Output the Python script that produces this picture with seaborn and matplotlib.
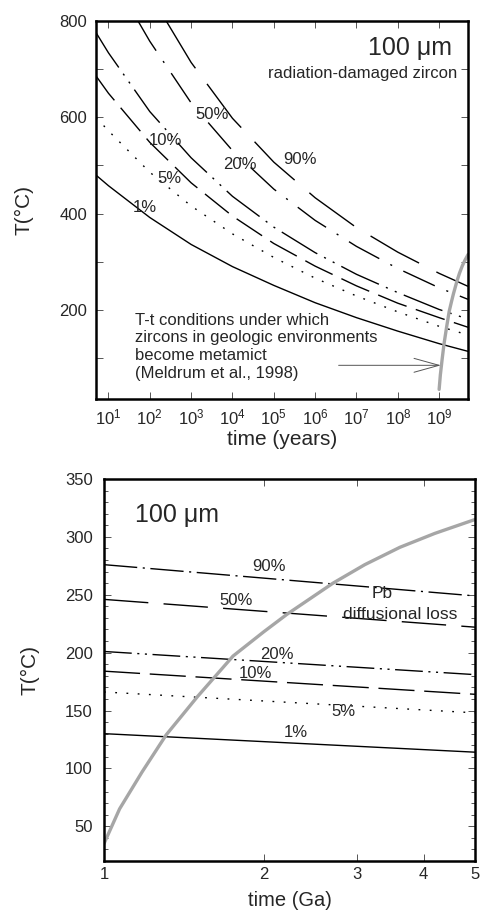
import matplotlib
matplotlib.use("Agg")
import matplotlib.pyplot as plt
from matplotlib.ticker import FixedLocator, FixedFormatter, MultipleLocator, NullLocator
import seaborn as sns

# ---------------------------------------------------------------------------
# Fractional Pb loss curves for a 100 um radiation-damaged zircon
# ---------------------------------------------------------------------------
t_years = [5, 1e1, 1e2, 1e3, 1e4, 1e5, 1e6, 1e7, 1e8, 1e9, 5e9]
T_loss_1 = [480, 458, 392, 336, 290, 251, 215, 184, 156, 130, 114]
T_loss_5 = [600, 572, 486, 416, 358, 309, 266, 229, 196, 166, 148]
T_loss_10 = [686, 650, 548, 464, 395, 338, 291, 250, 214, 184, 164]
T_loss_20 = [776, 734, 612, 516, 436, 372, 319, 274, 236, 201, 181]

t_years_50 = [52, 1e2, 1e3, 1e4, 1e5, 1e6, 1e7, 1e8, 1e9, 5e9]
T_loss_50 = [800, 758, 630, 531, 451, 386, 332, 286, 246, 222]

t_years_90 = [250, 1e3, 1e4, 1e5, 1e6, 1e7, 1e8, 1e9, 5e9]
T_loss_90 = [800, 714, 598, 507, 433, 371, 320, 276, 249]

# Metamictization boundary (Meldrum et al., 1998)
meta_ga = [1.0, 1.07, 1.18, 1.31, 1.50, 1.75, 2.0, 2.21, 2.70, 3.1, 3.61, 4.2, 5.0]
meta_T = [35, 65, 97, 129, 162, 197, 218, 233, 260, 276, 291, 303, 315]

loss_names = ["1%", "5%", "10%", "20%", "50%", "90%"]
x_decades = [1, 2, 3, 4, 5, 6, 7, 8, 9]
ga_ticks = [1, 2, 3, 4, 5]

series = {
    "1%": (t_years, T_loss_1),
    "5%": (t_years, T_loss_5),
    "10%": (t_years, T_loss_10),
    "20%": (t_years, T_loss_20),
    "50%": (t_years_50, T_loss_50),
    "90%": (t_years_90, T_loss_90),
}

# dash patterns (points) for each curve in the two panels
dash_top = {
    "1%": None,
    "5%": (1.3, 6.8),
    "10%": (22, 7),
    "20%": (30, 5.5, 1.5, 5.5, 1.5, 5.5),
    "50%": (25, 9, 1.5, 9),
    "90%": (40, 14),
}
dash_bot = {
    "1%": None,
    "5%": (1.3, 6.8),
    "10%": (26, 7),
    "20%": (20, 4, 1.5, 4, 1.5, 4),
    "50%": (32, 11),
    "90%": (24, 4, 1.5, 4),
}

label_pos_top = {
    "1%": (75, 413), "5%": (300, 472), "10%": (236, 552),
    "20%": (1.48e4, 503), "50%": (3.3e3, 606), "90%": (4.4e5, 512),
}
label_pos_bot = {
    "1%": (2.30, 131), "5%": (2.83, 149), "10%": (1.93, 182),
    "20%": (2.12, 198), "50%": (1.77, 245), "90%": (2.05, 274),
}

sns.set_theme(style="ticks")
plt.rcParams["font.family"] = ["Liberation Sans", "DejaVu Sans"]
plt.rcParams["axes.linewidth"] = 1.8
plt.rcParams["axes.edgecolor"] = "black"

GRAY = "#a6a6a6"


def draw(ax, x, y, dashes=None, color="black", lw=1.0):
    sns.lineplot(x=x, y=y, ax=ax, color=color, lw=lw, sort=False,
                 estimator=None, legend=False)
    line = ax.lines[-1]
    if dashes:
        line.set_dashes(dashes)
        line.set_dash_capstyle("butt")
    return line


fig = plt.figure(figsize=(4.83, 9.11), dpi=100)
ax1 = fig.add_axes([0.1988, 0.5620, 0.7702, 0.4149])
ax2 = fig.add_axes([0.2153, 0.0549, 0.7681, 0.4193])

# ---------------- upper panel: T vs time (years) ----------------
for name in loss_names:
    tx, ty = series[name]
    draw(ax1, tx, ty, dash_top[name])
draw(ax1, [g * 1e9 for g in meta_ga], meta_T, None, color=GRAY, lw=2.4)

ax1.set_xscale("log")
ax1.set_xlim(5, 5e9)
ax1.set_ylim(15, 800)
ax1.xaxis.set_major_locator(FixedLocator([10.0 ** k for k in x_decades]))
ax1.xaxis.set_major_formatter(
    FixedFormatter([r"$\mathdefault{10^{%d}}$" % k for k in x_decades]))
ax1.xaxis.set_minor_locator(NullLocator())
ax1.yaxis.set_major_locator(MultipleLocator(200))
ax1.yaxis.set_minor_locator(MultipleLocator(100))
ax1.tick_params(which="both", direction="in", top=True, right=True,
                width=0.7, color="#555555", labelsize=12)
ax1.tick_params(which="major", length=5)
ax1.tick_params(which="minor", length=5)
ax1.tick_params(axis="x", pad=6)
ax1.tick_params(axis="y", pad=6.5)
ax1.set_xlabel("time (years)", fontsize=15)
ax1.set_ylabel("T(\u00b0C)", fontsize=15)
ax1.xaxis.set_label_coords(0.5, -0.082)
ax1.yaxis.set_label_coords(-0.169, 0.5)

for name in loss_names:
    px, py = label_pos_top[name]
    ax1.text(px, py, name, fontsize=12, ha="center", va="center")

ax1.text(0.957, 0.910, "100 \u03bcm", transform=ax1.transAxes, fontsize=18,
         ha="right", va="baseline")
ax1.text(0.970, 0.849, "radiation-damaged zircon", transform=ax1.transAxes,
         fontsize=12, ha="right", va="baseline")
ax1.text(0.105, 0.228,
         "T-t conditions under which\nzircons in geologic environments\n"
         "become metamict\n(Meldrum et al., 1998)",
         transform=ax1.transAxes, fontsize=12, ha="left", va="top",
         linespacing=1.22)
ax1.annotate("", xy=(1.1e9, 85), xytext=(3.7e6, 85),
             arrowprops=dict(arrowstyle="->,head_length=1.8,head_width=0.5",
                             color="#555555", lw=0.7, shrinkA=0, shrinkB=0,
                             mutation_scale=10))

# ---------------- lower panel: T vs time (Ga) ----------------
for name in loss_names:
    tx, ty = series[name]
    draw(ax2, [tx[-2] / 1e9, tx[-1] / 1e9], [ty[-2], ty[-1]], dash_bot[name])
draw(ax2, meta_ga, meta_T, None, color=GRAY, lw=2.4)

ax2.set_xscale("log")
ax2.set_xlim(1, 5)
ax2.set_ylim(20, 350)
ax2.xaxis.set_major_locator(FixedLocator(ga_ticks))
ax2.xaxis.set_major_formatter(FixedFormatter([str(v) for v in ga_ticks]))
ax2.xaxis.set_minor_locator(NullLocator())
ax2.yaxis.set_major_locator(MultipleLocator(50))
ax2.yaxis.set_minor_locator(MultipleLocator(10))
ax2.tick_params(which="both", direction="in", top=True, right=True,
                width=0.7, color="#555555", labelsize=12)
ax2.tick_params(which="major", length=5)
ax2.tick_params(which="minor", length=3)
ax2.tick_params(axis="x", pad=4)
ax2.tick_params(axis="y", pad=8)
ax2.set_xlabel("time (Ga)", fontsize=14.5)
ax2.set_ylabel("T(\u00b0C)", fontsize=15)
ax2.xaxis.set_label_coords(0.5, -0.079)
ax2.yaxis.set_label_coords(-0.1725, 0.5)

for name in loss_names:
    px, py = label_pos_bot[name]
    ax2.text(px, py, name, fontsize=12, ha="center", va="center")
ax2.text(3.34, 251, "Pb", fontsize=12.5, ha="center", va="center")
ax2.text(3.61, 233, "diffusional loss", fontsize=12.5, ha="center", va="center")
ax2.text(0.084, 0.888, "100 \u03bcm", transform=ax2.transAxes, fontsize=18,
         ha="left", va="baseline")

fig.savefig("out.png", dpi=100)
